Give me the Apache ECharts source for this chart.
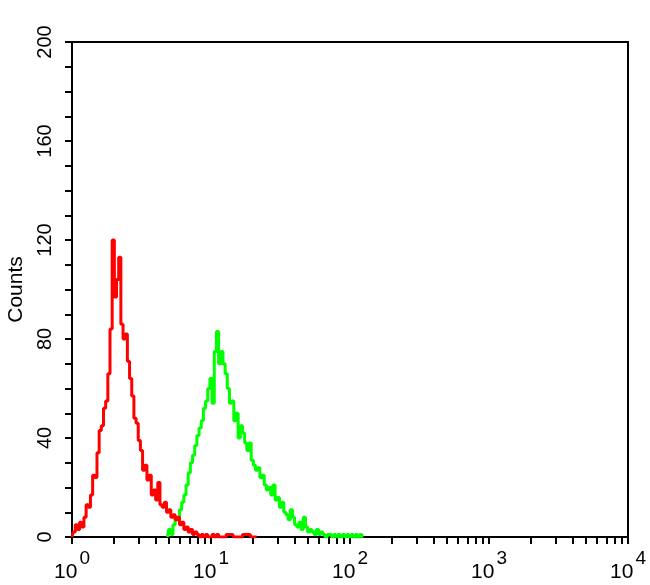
<!DOCTYPE html>
<html>
<head>
<meta charset="utf-8">
<script src="https://cdn.jsdelivr.net/npm/echarts@6/dist/echarts.min.js"></script>
<style>
html,body{margin:0;padding:0;background:#fff;}
#chart{width:650px;height:585px;}
</style>
</head>
<body>
<div id="chart"></div>
<script>
// Channels: 1024 channels over 4 log decades (channel 0 = 10^0, channel 1024 = 10^4)
const redChannels = [0,4,8,12,16,20,24,28,32,36,40,44,48,52,56,60,64,68,72,76,80,84,88,92,96,100,104,108,112,116,120,124,128,132,136,140,144,148,152,156,160,164,168,172,176,180,184,188,192,196,200,204,208,212,216,220,224,228,232,236,240,244,248,252,256,260,264,268,272,296,300,328,332,340];
const redCounts   = [0,2,5,3,6,4,8,13,12,17,25,24,34,43,45,52,55,66,84,120,97,104,113,86,80,82,71,64,57,48,46,39,35,27,29,23,25,17,19,15,22,13,12,14,10,11,8,9,7,8,5,6,3,4,2,3,1,2,1,0,1,0,1,0,0,1,0,1,0,1,0,1,0,0];

const greenChannels = [176,180,184,188,192,196,200,204,208,212,216,220,224,228,232,236,240,244,248,252,256,260,264,268,272,276,280,284,288,292,296,300,304,308,312,316,320,324,328,332,336,340,344,348,352,356,360,364,368,372,376,380,384,388,392,396,400,404,408,412,416,420,424,428,432,436,440,444,448,452,456,460,464,468,472,476,480,484,488,492,496,500,504,508,512,516,520,524,528,532,536];
const greenCounts   = [0,3,1,5,8,7,11,14,17,21,26,30,33,37,41,44,47,52,55,60,64,54,75,83,70,75,70,66,60,54,55,47,50,40,45,42,38,35,38,31,29,27,28,24,25,21,19,20,17,21,15,16,12,14,10,9,7,11,8,5,4,6,3,8,4,2,3,2,1,3,1,2,1,0,1,1,0,1,0,1,0,1,0,1,0,1,0,1,0,1,0];

const xDecadeLabels = ['0','1','2','3','4'];
const yLabelValues = [0,40,80,120,160,200];

const CH_PER_DECADE = 256;
const xTickChannels = [];
for (let d = 0; d < 4; d++) {
  for (let k = 1; k <= 9; k++) xTickChannels.push(CH_PER_DECADE * (d + Math.log10(k)));
}
xTickChannels.push(CH_PER_DECADE * 4);
const xLabelChannels = xDecadeLabels.map((s, i) => i * CH_PER_DECADE);

const pairs = (xs, ys) => xs.map((x, i) => [x, ys[i]]);

const chart = echarts.init(document.getElementById('chart'), null, {renderer: 'canvas'});
chart.setOption({
  animation: false,
  backgroundColor: '#fff',
  grid: {left: 72, right: 22, top: 42, bottom: 48, containLabel: false, outerBoundsMode: 'none',
         show: true, borderColor: '#000', borderWidth: 2, backgroundColor: 'transparent'},
  xAxis: {
    type: 'value', min: 0, max: 1024,
    axisLine: {show: true, onZero: false, lineStyle: {color: '#000', width: 2}},
    splitLine: {show: false},
    axisTick: {show: true, customValues: xTickChannels, length: 7, lineStyle: {color: '#000', width: 2}},
    axisLabel: {
      show: true, customValues: xLabelChannels, margin: 12,
      formatter: function (v) {
        const i = Math.round(v / CH_PER_DECADE);
        return '{b|10}{s|' + xDecadeLabels[i] + '}';
      },
      rich: {
        b: {fontFamily: 'Liberation Sans', fontSize: 21, color: '#000', lineHeight: 34, verticalAlign: 'bottom'},
        s: {fontFamily: 'Liberation Sans', fontSize: 19, color: '#000', lineHeight: 34, verticalAlign: 'top', padding: [0, 0, 0, 2]}
      }
    }
  },
  yAxis: {
    type: 'value', min: 0, max: 200, interval: 10,
    name: 'Counts', nameLocation: 'middle', nameGap: 44, nameRotate: 90,
    nameTextStyle: {fontFamily: 'Liberation Sans', fontSize: 21, color: '#000'},
    axisLine: {show: true, lineStyle: {color: '#000', width: 2}},
    splitLine: {show: false},
    axisTick: {show: true, length: 7, lineStyle: {color: '#000', width: 2}},
    axisLabel: {
      show: true, rotate: 90, margin: 17,
      fontFamily: 'Liberation Sans', fontSize: 20, color: '#000',
      formatter: function (v) { return yLabelValues.indexOf(v) >= 0 ? String(v) : ''; }
    }
  },
  series: [
    {type: 'line', name: 'green', step: 'middle', showSymbol: false, data: pairs(greenChannels, greenCounts),
     lineStyle: {color: '#00ff00', width: 3}, itemStyle: {color: '#00ff00'}, z: 2},
    {type: 'line', name: 'red', step: 'middle', showSymbol: false, data: pairs(redChannels, redCounts),
     lineStyle: {color: '#ff0000', width: 3}, itemStyle: {color: '#ff0000'}, z: 3}
  ]
});
</script>
</body>
</html>
